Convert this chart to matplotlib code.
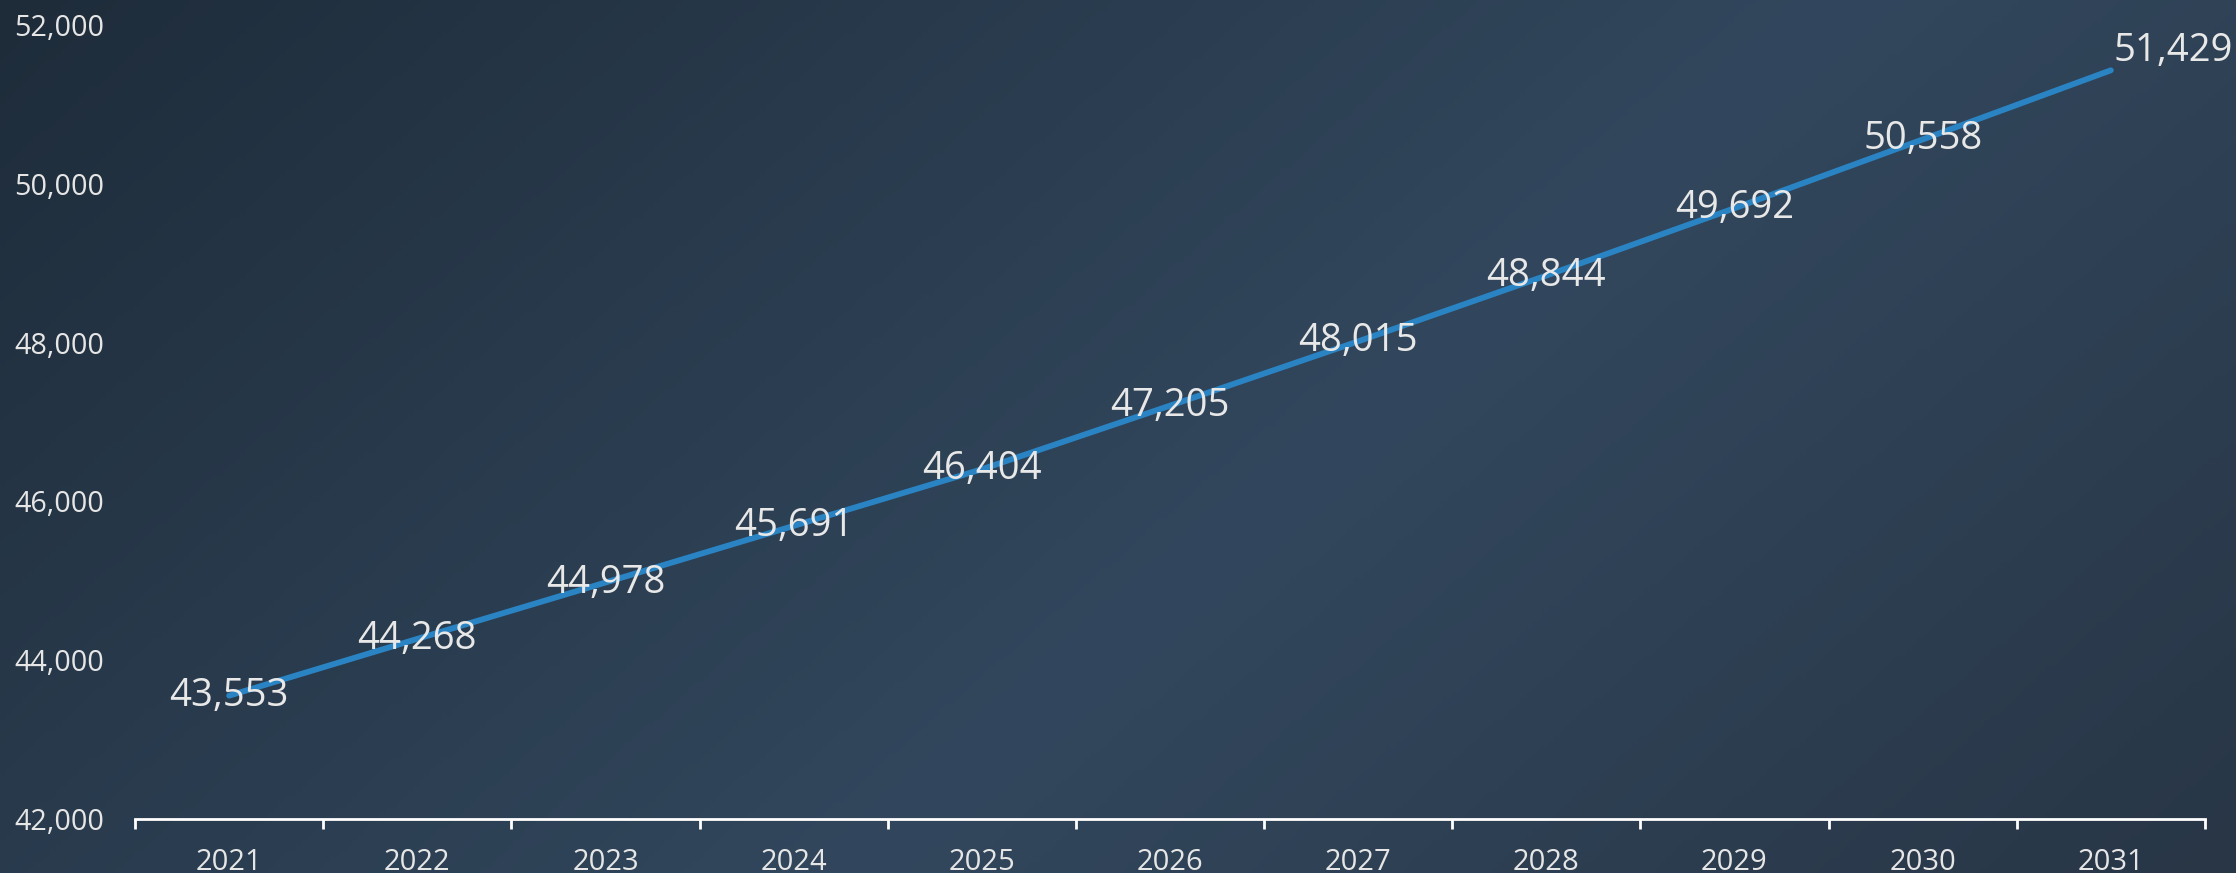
import numpy as np
import matplotlib.pyplot as plt
from matplotlib.colors import LinearSegmentedColormap
from matplotlib.ticker import FuncFormatter

years = ['2021', '2022', '2023', '2024', '2025', '2026', '2027', '2028', '2029', '2030', '2031']
values = [43553, 44268, 44978, 45691, 46404, 47205, 48015, 48844, 49692, 50558, 51429]

plt.rcParams['font.family'] = ['Open Sans', 'DejaVu Sans']

fig = plt.figure(figsize=(22.36, 8.73), dpi=100)

# background gradient (diagonal band)
bg = fig.add_axes([0, 0, 1, 1])
W, H = 2236, 873
xx, yy = np.meshgrid(np.linspace(0, W, 400), np.linspace(0, H, 160))
s = xx + 1.14 * yy
s = s / s.max()
cmap = LinearSegmentedColormap.from_list('bg', [(0.0, '#1e2c3a'), (0.57, '#32475d'), (1.0, '#283646')])
bg.imshow(s, cmap=cmap, aspect='auto', extent=[0, 1, 0, 1], origin='upper')
bg.axis('off')

ax = fig.add_axes([0.0604, 0.0619, 0.9257, 0.9095])
ax.patch.set_alpha(0)
x = np.arange(len(years))
ax.plot(x, values, color='#2a84c4', linewidth=4.2, solid_capstyle='round')

for i, v in enumerate(values):
    if i == len(values) - 1:
        ax.annotate(f'{v:,}', (i, v), xytext=(2, 14), textcoords='offset points',
                    ha='left', va='center', fontsize=27.5, color='#e8e8e8')
    else:
        ax.text(i, v, f'{v:,}', ha='center', va='center', fontsize=27.5, color='#e8e8e8')

ax.set_xlim(-0.5, len(years) - 0.5)
ax.set_ylim(42000, 52000)
ax.set_yticks(np.arange(42000, 52001, 2000))
ax.yaxis.set_major_formatter(FuncFormatter(lambda v, p: f'{int(v):,}'))
ax.tick_params(axis='y', length=0, pad=22, labelsize=20.7, labelcolor='#e6e6e6')

ax.set_xticks(np.arange(-0.5, len(years), 1.0))
ax.set_xticklabels([])
ax.set_xticks(x, minor=True)
ax.set_xticklabels(years, minor=True)
ax.tick_params(axis='x', which='major', length=7, width=2, color='white', direction='out')
ax.tick_params(axis='x', which='minor', length=0, pad=21, labelsize=21, labelcolor='#e6e6e6')

for side in ['top', 'right', 'left']:
    ax.spines[side].set_visible(False)
ax.spines['bottom'].set_color('white')
ax.spines['bottom'].set_linewidth(2)

fig.savefig('out.png', dpi=100)
